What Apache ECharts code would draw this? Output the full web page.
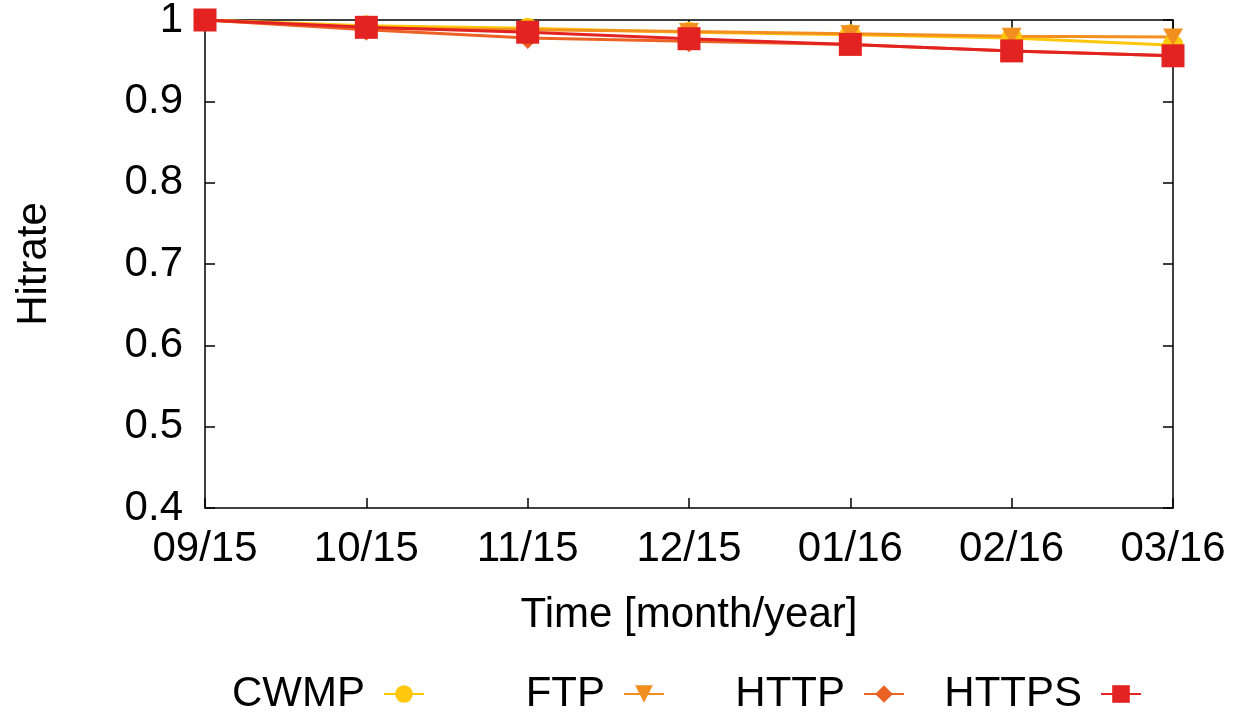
<!DOCTYPE html>
<html>
<head>
<meta charset="utf-8">
<script src="https://cdn.jsdelivr.net/npm/echarts@6/dist/echarts.min.js"></script>
<style>
  html, body { margin: 0; padding: 0; background: #fff; }
  #chart { width: 1240px; height: 714px; }
</style>
</head>
<body>
<div id="chart"></div>
<script>
const months = ['09/15', '10/15', '11/15', '12/15', '01/16', '02/16', '03/16'];
const cwmp  = [1, 0.993, 0.990, 0.985, 0.982, 0.978, 0.969];
const ftp   = [1, 0.990, 0.988, 0.986, 0.983, 0.980, 0.979];
const http  = [1, 0.988, 0.978, 0.974, 0.970, 0.962, 0.956];
const https = [1, 0.991, 0.985, 0.977, 0.970, 0.962, 0.956];

const font = 'Liberation Sans, Arial, sans-serif';
const fs = 42;
const chart = echarts.init(document.getElementById('chart'));

function line(name, data, color, symbol, size, rotate) {
  return {
    name, type: 'line', data,
    symbol, symbolSize: size, symbolRotate: rotate || 0,
    lineStyle: { color, width: 3 },
    itemStyle: { color },
    animation: false,
  };
}

// gnuplot-style key: text right-justified, sample to its right
function key(name, rightEdge) {
  return {
    data: [name], align: 'right', right: 1240 - rightEdge, top: 673,
    padding: 0, itemWidth: 40, itemHeight: 22,
    textStyle: { fontFamily: font, fontSize: fs, color: '#000', padding: [0, 14, 0, 0] },
  };
}

const inTick = { show: true, inside: true, length: 10, lineStyle: { color: '#000', width: 1.5 } };
const frame = { show: true, lineStyle: { color: '#000', width: 1.5 } };

chart.setOption({
  grid: { left: 205, right: 67, top: 20, bottom: 206, outerBoundsMode: 'none', containLabel: false },
  legend: [key('CWMP', 425), key('FTP', 665), key('HTTP', 905), key('HTTPS', 1142)],
  xAxis: [{
    type: 'category', data: months, boundaryGap: false,
    axisLine: frame, axisTick: inTick,
    axisLabel: { fontFamily: font, fontSize: fs, color: '#000', margin: 20 },
    name: 'Time [month/year]', nameLocation: 'middle', nameGap: 86,
    nameTextStyle: { fontFamily: font, fontSize: fs, color: '#000' },
    splitLine: { show: false },
  }, {
    type: 'category', data: months, boundaryGap: false, position: 'top',
    axisLine: frame, axisTick: inTick, axisLabel: { show: false },
  }],
  yAxis: [{
    type: 'value', min: 0.4, max: 1, interval: 0.1,
    axisLine: frame, axisTick: inTick,
    axisLabel: { fontFamily: font, fontSize: fs, color: '#000', margin: 22,
      formatter: v => String(parseFloat(v.toFixed(1))) },
    splitLine: { show: false },
    name: 'Hitrate', nameLocation: 'middle', nameGap: 150, nameRotate: 90,
    nameTextStyle: { fontFamily: font, fontSize: fs, color: '#000' },
  }, {
    type: 'value', min: 0.4, max: 1, interval: 0.1, position: 'right',
    axisLine: frame, axisTick: inTick, axisLabel: { show: false },
    splitLine: { show: false },
  }],
  series: [
    line('CWMP', cwmp, '#fec70c', 'circle', 21),
    line('FTP', ftp, '#f28f1e', 'triangle', [20, 17], 180),
    line('HTTP', http, '#ec6224', 'diamond', 22),
    line('HTTPS', https, '#e32322', 'rect', 23),
  ],
});
</script>
</body>
</html>
